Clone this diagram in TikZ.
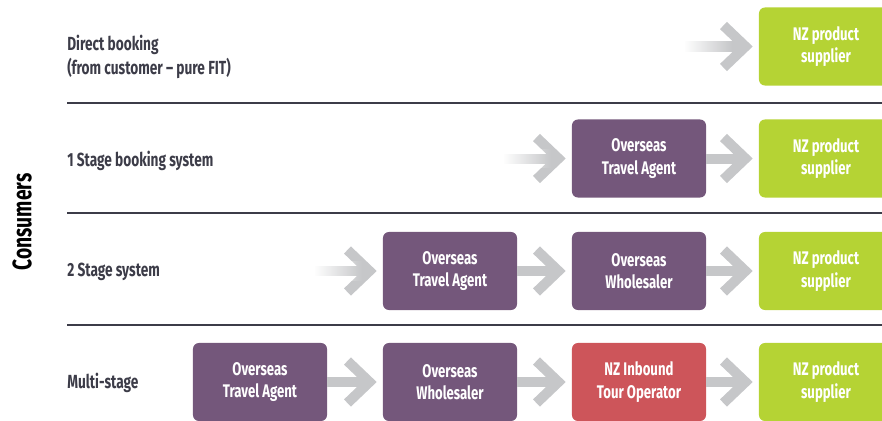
\documentclass[tikz,border=0pt]{standalone}
\usepackage{fontspec}
\setsansfont{Fira Sans}[FakeStretch=0.72]
\usetikzlibrary{arrows.meta,fadings}

\tikzfading[name=fadewhite, left color=transparent!0, right color=transparent!100]

\begin{document}
\begin{tikzpicture}[x=0.025cm, y=-0.025cm, font=\sffamily\bfseries]

	% Colors
	\definecolor{agentpurple}{RGB}{116,87,123}
	\definecolor{inboundred}{RGB}{205,85,90}
	\definecolor{supplygreen}{RGB}{181,211,52}
	\definecolor{arrowgray}{RGB}{198,199,201}
	\definecolor{labelgray}{RGB}{60,60,72}

	% Styles
	\tikzset{
		box/.style={
			rectangle, fill=#1, text=white,
			minimum width=3.35cm, minimum height=1.95cm,
			align=center, rounded corners=0.15cm,
			font=\sffamily\bfseries\fontsize{13}{16}\selectfont,
		},
		rowlabel/.style={
			anchor=west, text=labelgray, align=left, inner sep=0pt,
			font=\sffamily\bfseries\fontsize{13.5}{16.5}\selectfont,
		},
		conn/.style={
			draw=arrowgray, line width=0.25cm, shorten >=0.15cm,
			-{Straight Barb[length=0.55cm, width=1.05cm, line cap=butt, line join=miter]},
		},
		fadeout/.style={
			fill=white, path fading=fadewhite,
		},
		divider/.style={
			draw=labelgray, line width=0.04cm,
		}
	}

	\useasboundingbox (0,0) rectangle (882,421);

	% Side title
	\node[rotate=90, font=\sffamily\bfseries\fontsize{19}{22}\selectfont] (consumers) at (22,222) {Consumers};

	% Row labels
	\node[rowlabel] (direct) at (67,57) {Direct booking\\(from customer -- pure FIT)};
	\node[rowlabel] (onestage) at (67,161) {1 Stage booking system};
	\node[rowlabel] (twostage) at (67,272) {2 Stage system};
	\node[rowlabel] (multi) at (67,383) {Multi-stage};

	% Dividers
	\draw[divider] (67,103) -- (882,103);
	\draw[divider] (67,213) -- (882,213);
	\draw[divider] (67,325) -- (882,325);

	% Direct booking
	\node[box=supplygreen] (sup1) at (826,46.5) {NZ product\\supplier};
	\coordinate (in1) at (684,46.5);

	% 1 Stage
	\node[box=agentpurple] (agent2) at (639,158.5) {Overseas\\Travel Agent};
	\node[box=supplygreen] (sup2) at (826,158.5) {NZ product\\supplier};
	\coordinate (in2) at (503,158.5);

	% 2 Stage
	\node[box=agentpurple] (agent3) at (450,271) {Overseas\\Travel Agent};
	\node[box=agentpurple] (whole3) at (639,271) {Overseas\\Wholesaler};
	\node[box=supplygreen] (sup3) at (826,271) {NZ product\\supplier};
	\coordinate (in3) at (314,271);

	% Multi-stage
	\node[box=agentpurple] (agent4) at (260,382) {Overseas\\Travel Agent};
	\node[box=agentpurple] (whole4) at (450,382) {Overseas\\Wholesaler};
	\node[box=inboundred] (inbound4) at (639,382) {NZ Inbound\\Tour Operator};
	\node[box=supplygreen] (sup4) at (826,382) {NZ product\\supplier};

	% Arrows
	\draw[conn] (in1) -- (sup1.west);
	\draw[conn] (in2) -- (agent2.west);
	\draw[conn] (agent2) -- (sup2);
	\draw[conn] (in3) -- (agent3.west);
	\draw[conn] (agent3) -- (whole3);
	\draw[conn] (whole3) -- (sup3);
	\draw[conn] (agent4) -- (whole4);
	\draw[conn] (whole4) -- (inbound4);
	\draw[conn] (inbound4) -- (sup4);

	% Fade the free ends of the incoming arrows
	\foreach \s in {in1,in2,in3}
		\path[fadeout] ([yshift=-7]\s) rectangle ([xshift=34, yshift=7]\s);

\end{tikzpicture}
\end{document}
